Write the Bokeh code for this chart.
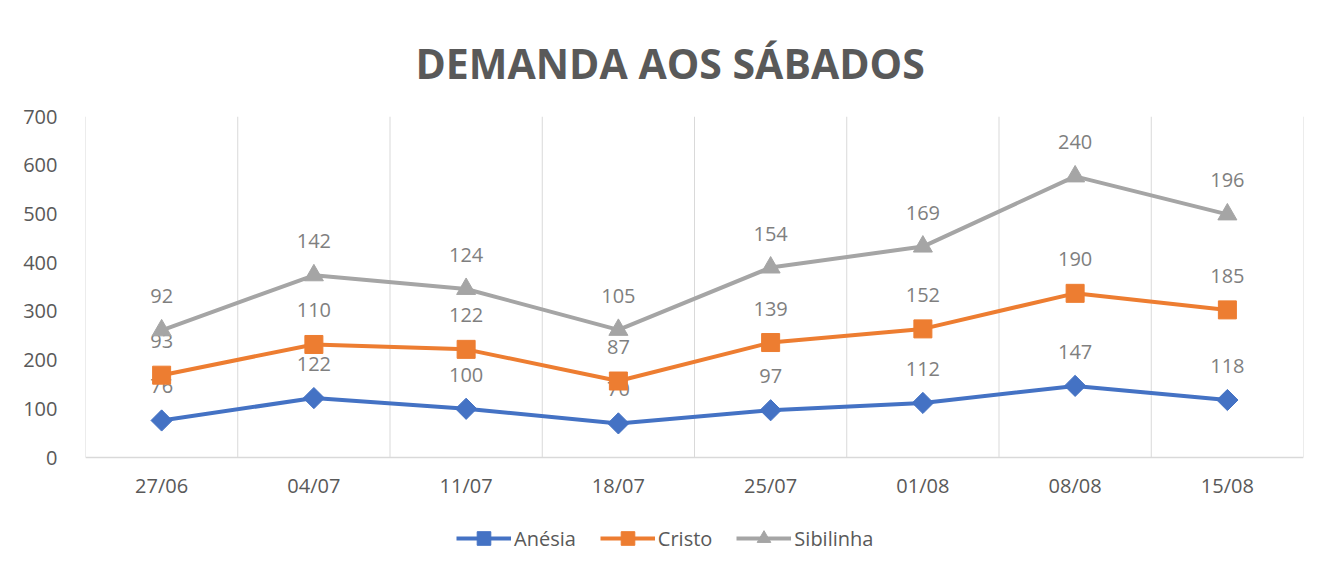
import math
from bokeh.plotting import figure
from bokeh.models import Range1d, FixedTicker, Legend, LegendItem, ColumnDataSource, Title, Span
from bokeh.core.properties import value
from bokeh.embed import file_html
from bokeh.resources import INLINE

dates = ["27/06", "04/07", "11/07", "18/07", "25/07", "01/08", "08/08", "15/08"]
anesia = [76, 122, 100, 70, 97, 112, 147, 118]
cristo = [93, 110, 122, 87, 139, 152, 190, 185]
sibilinha = [92, 142, 124, 105, 154, 169, 240, 196]
y_ticks = [0, 100, 200, 300, 400, 500, 600, 700]

FONT = "Open Sans"
n = len(dates)
xs = [i + 0.5 for i in range(n)]
cum1 = anesia
cum2 = [a + b for a, b in zip(anesia, cristo)]
cum3 = [a + b for a, b in zip(cum2, sibilinha)]

Y_MAX = y_ticks[-1]
# frame extends below zero to host the category labels and legend (341 px for 0..700)
frame_h = 449
y_min = -Y_MAX * (frame_h - 341) / 341

p = figure(frame_width=1218, frame_height=frame_h, output_backend="svg", toolbar_location=None,
           x_range=Range1d(0, n), y_range=Range1d(y_min, Y_MAX),
           min_border_left=85, min_border_right=13, min_border_top=116, min_border_bottom=0)
p.outline_line_color = None
p.background_fill_color = "white"
p.border_fill_color = "white"

t = Title(text="DEMANDA AOS SÁBADOS", align="left", text_font=FONT, text_font_size="41px",
          text_font_style="bold", text_color="#595959", offset=330, standoff=52)
p.add_layout(t, "above")

p.xgrid.grid_line_color = None
p.ygrid.grid_line_color = None
p.xaxis.visible = False

# vertical category gridlines between 0 and the top
bounds = list(range(n + 1))
p.segment(x0=bounds, x1=bounds, y0=[0] * len(bounds), y1=[Y_MAX] * len(bounds),
          line_color="#d9d9d9", line_width=1)
p.add_layout(Span(location=0, dimension="width", line_color="#d9d9d9", line_width=1.5))

# category labels
p.text(x=xs, y=[0] * n, text=dates, text_align="center", text_baseline="middle",
       y_offset=28, text_font=value(FONT), text_font_size="20px", text_color="#595959")

p.yaxis.ticker = FixedTicker(ticks=y_ticks)
p.yaxis.axis_line_color = None
p.yaxis.major_tick_line_color = None
p.yaxis.minor_tick_line_color = None
p.yaxis.major_label_text_font = FONT
p.yaxis.major_label_text_font_size = "20px"
p.yaxis.major_label_text_color = "#595959"
p.yaxis.major_label_standoff = 22

series = [
    ("Anésia", cum1, anesia, "#4472C4", "square", 15, math.pi / 4),
    ("Cristo", cum2, cristo, "#ED7D31", "square", 18, 0),
    ("Sibilinha", cum3, sibilinha, "#A5A5A5", "triangle", 19, 0),
]
items = []
for name, cum, vals, color, marker, size, ang in series:
    src = ColumnDataSource(dict(x=xs, y=cum, lbl=[str(v) for v in vals]))
    l = p.line("x", "y", source=src, line_color=color, line_width=4)
    s = p.scatter("x", "y", source=src, marker=marker, size=size, angle=ang,
                  fill_color=color, line_color=color)
    p.text("x", "y", text="lbl", source=src, text_align="center", text_baseline="middle",
           y_offset=-34, text_font=value(FONT), text_font_size="20px", text_color="#7f7f7f")
    items.append(LegendItem(label=name, renderers=[l, s]))

legend = Legend(items=items, orientation="horizontal", location=(371, 10),
                label_text_font=FONT, label_text_font_size="20px", label_text_color="#595959",
                glyph_width=55, glyph_height=34, spacing=24, label_standoff=3,
                border_line_color=None, background_fill_alpha=0, margin=0, padding=2)
p.add_layout(legend, "center")

open("out.html", "w").write(file_html(p, INLINE))
